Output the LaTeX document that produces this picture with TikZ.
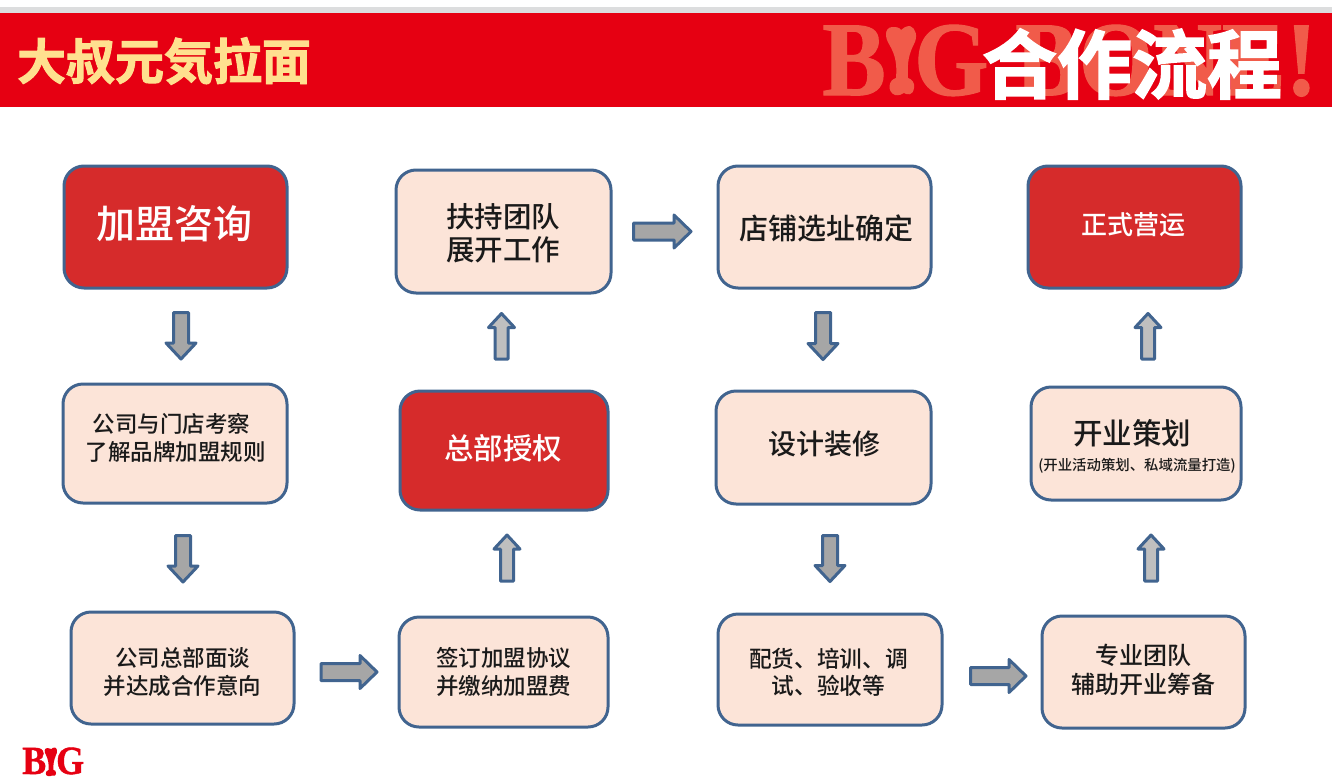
\documentclass[tikz,border=0pt]{standalone}
\usepackage{fontspec}
\setmainfont{Noto Sans CJK SC Medium}
\newfontfamily\headfont[FakeBold=2]{Noto Sans CJK SC Bold}
\newfontfamily\bigfont[FakeBold=1,FakeStretch=0.9]{Liberation Serif Bold}
\usetikzlibrary{calc}
\definecolor{bandred}{HTML}{E60012}
\definecolor{bandgray}{HTML}{DCDDDE}
\definecolor{ghost}{HTML}{F15B4A}
\definecolor{gold}{HTML}{FFE08F}
\definecolor{edgeblue}{HTML}{41648F}
\definecolor{peach}{HTML}{FCE4D8}
\definecolor{boxred}{HTML}{D62B2B}
\definecolor{arrowgray}{HTML}{A6A6A6}
\definecolor{arrowpale}{HTML}{BFBFBF}
\definecolor{ink}{HTML}{1A1A1A}
\tikzset{
  stepbox/.style={draw=edgeblue,line width=3pt,rounded corners=20pt,fill=peach,inner sep=0pt},
  redbox/.style={stepbox,fill=boxred},
  inktext/.style={text=ink,align=center,inner sep=0pt},
  paletext/.style={text=white,align=center,inner sep=0pt},
  downarrow/.style={draw=edgeblue,fill=arrowgray,line width=3pt,line join=round},
  uparrow/.style={draw=edgeblue,fill=arrowpale,line width=3pt,line join=round},
}
% name, x0, y0, x1, y1, box style
\newcommand{\stepnode}[6]{%
  \node[#6,minimum width={#4-#2-2},minimum height={#5-#3-2}] (#1) at ({(#2+#4)/2},{(#3+#5)/2}) {};}
% style, start, end, shaft half-width, head half-width, head length
\newcommand{\blockconn}[6]{%
  \coordinate (ba) at (#2); \coordinate (bb) at (#3);
  \coordinate (bs) at ($(ba)!-1pt!(bb)$); \coordinate (be) at ($(bb)!-2pt!(ba)$);
  \coordinate (bh) at ($(be)!#6pt!(bs)$);
  \draw[#1] ($(bs)!#4pt!90:(be)$) -- ($(bh)!#4pt!-90:(bs)$) -- ($(bh)!#5pt!-90:(bs)$) -- (be)
    -- ($(bh)!#5pt!90:(bs)$) -- ($(bh)!#4pt!90:(bs)$) -- ($(bs)!#4pt!-90:(be)$) -- cycle;}
\newcommand{\fs}[1]{\fontsize{#1pt}{#1pt}\selectfont}
\begin{document}
\begin{tikzpicture}[x=1pt,y=-1pt]
\useasboundingbox (0,0) rectangle (1332,779);
\fill[white] (0,0) rectangle (1332,779);
\fill[bandgray] (0,7) rectangle (1332,13);
\fill[bandred] (0,13) rectangle (1332,107);
% ghost wordmark
\node[text=ghost,inner sep=0pt,anchor=base west] (gb) at (822,95) {\bigfont\fs{106}B};
\fill[ghost] (892,27) .. controls (884,28) and (885,38) .. (889,44) .. controls (896,56) and (897,65) .. (896,78)
  .. controls (888,80) and (887,92) .. (895,95) .. controls (899,96) and (902,94) .. (904,93)
  .. controls (907,95) and (913,96) .. (914,88) .. controls (915,83) and (912,79) .. (908,78)
  .. controls (907,62) and (909,54) .. (914,44) .. controls (918,37) and (916,28) .. (910,26)
  .. controls (906,26) and (903,28) .. (901,30) .. controls (899,27) and (896,27) .. (892,27) -- cycle;
\node[text=ghost,inner sep=0pt,anchor=base west] (gg) at (914,95) {\bigfont\fs{106}G};
\node[text=ghost,inner sep=0pt,anchor=base west] (gbone) at (1015,95) {\bigfont\fs{106}BONE!};
% titles
\node[text=gold,inner sep=0pt] (title) at (164,61) {\headfont\fs{49}大叔元気拉面};
\node[text=white,inner sep=0pt] (flow) at (1132,64) {\headfont\fs{75}合作流程};
% boxes
\stepnode{n1}{63}{165}{288}{289}{redbox}
\stepnode{n2}{62}{383}{288}{504}{stepbox}
\stepnode{n3}{70}{611}{295}{725}{stepbox}
\stepnode{n4}{398}{616}{609}{728}{stepbox}
\stepnode{n5}{399}{390}{609}{511}{redbox}
\stepnode{n6}{395}{169}{612}{294}{stepbox}
\stepnode{n7}{717}{165}{932}{289}{stepbox}
\stepnode{n8}{715}{390}{932}{505}{stepbox}
\stepnode{n9}{717}{613}{943}{726}{stepbox}
\stepnode{n10}{1041}{615}{1246}{729}{stepbox}
\stepnode{n11}{1030}{386}{1242}{501}{stepbox}
\stepnode{n12}{1027}{165}{1242}{289}{redbox}
% texts
\node[paletext,font=\fs{39}] (t1) at ($(n1.center)+(-1,-3)$) {加盟咨询};
\node[inktext,font=\fs{22.5}] (t2a) at (171.5,424) {公司与门店考察};
\node[inktext,font=\fs{22.5}] (t2b) at (175.5,452) {了解品牌加盟规则};
\node[inktext,font=\fs{22.5}] (t3a) at (182.5,658) {公司总部面谈};
\node[inktext,font=\fs{22.5}] (t3b) at (182.5,686) {并达成合作意向};
\node[inktext,font=\fs{22.5}] (t4a) at (503.5,658) {签订加盟协议};
\node[inktext,font=\fs{22.5}] (t4b) at (503.5,686) {并缴纳加盟费};
\node[paletext,font=\fs{29.5}] (t5) at ($(n5.center)+(-1,-2)$) {总部授权};
\node[inktext,font=\fs{28.5}] (t6a) at (503,217) {扶持团队};
\node[inktext,font=\fs{28.5}] (t6b) at (503,250) {展开工作};
\node[inktext,font=\fs{29}] (t7) at ($(n7.center)+(2,1)$) {店铺选址确定};
\node[inktext,font=\fs{28}] (t8) at ($(n8.center)+(0.5,-3.5)$) {设计装修};
\node[inktext,font=\fs{22.7}] (t9a) at (828.5,659) {配货、培训、调};
\node[inktext,font=\fs{22.7}] (t9b) at (828.5,686) {试、验收等};
\node[inktext,font=\fs{24}] (t10a) at (1143,655) {专业团队};
\node[inktext,font=\fs{24}] (t10b) at (1143,684) {辅助开业筹备};
\node[inktext,font=\fs{29.5}] (t11a) at (1132,433) {开业策划};
\node[inktext,font=\fs{14.4}] (t11b) at (1137,466) {(开业活动策划、私域流量打造)};
\node[paletext,font=\fs{26}] (t12) at ($(n12.center)+(-1,-2)$) {正式营运};
% connectors
\blockconn{downarrow}{$(n1.south)+(5.5,24)$}{$(n2.north)+(6,-25.5)$}{7.5}{15}{16}
\blockconn{downarrow}{$(n2.south)+(8,32)$}{$(n3.north)+(0.5,-30.5)$}{7.5}{15}{16}
\blockconn{downarrow}{$(n3.east)+(26.5,4)$}{$(n4.west)+(-22.5,0)$}{8.5}{16.5}{17}
\blockconn{uparrow}{$(n4.north)+(3.5,-35.5)$}{$(n5.south)+(3,25.5)$}{6.5}{13}{14}
\blockconn{uparrow}{$(n5.north)+(-2.5,-31.5)$}{$(n6.south)+(-2,21)$}{6.5}{13}{14}
\blockconn{downarrow}{$(n6.east)+(22,0)$}{$(n7.west)+(-27.5,4.5)$}{8.5}{16.5}{17}
\blockconn{downarrow}{$(n7.south)+(-1.5,24)$}{$(n8.north)+(-0.5,-32)$}{7.5}{15}{16}
\blockconn{downarrow}{$(n8.south)+(6.5,31)$}{$(n9.north)+(0,-33)$}{7.5}{15}{16}
\blockconn{downarrow}{$(n9.east)+(28,6.5)$}{$(n10.west)+(-16.5,4)$}{8.5}{16.5}{17}
\blockconn{uparrow}{$(n10.north)+(7.5,-34.5)$}{$(n11.south)+(15,35.5)$}{6.5}{13}{14}
\blockconn{uparrow}{$(n11.north)+(12,-27.5)$}{$(n12.south)+(13.5,26)$}{6.5}{13}{14}
% bottom-left mark
\node[text=bandred,inner sep=0pt,anchor=base west] (mb) at (22,774) {\bigfont\fs{40}B};
\fill[bandred] (47.5,748) .. controls (44,748) and (44,752) .. (46,755) .. controls (48.5,760) and (49,765) .. (48.5,770)
  .. controls (45,771) and (45,776) .. (48,776) .. controls (50,776.5) and (51,776) .. (52,775.5)
  .. controls (53,776) and (56,776.5) .. (56,773) .. controls (56,771) and (55,770) .. (53.5,770)
  .. controls (53,764) and (54,760) .. (56,755) .. controls (58,752) and (57,748) .. (55,747.5)
  .. controls (53,747.5) and (52,748) .. (51.5,749) .. controls (50,748) and (49,748) .. (47.5,748) -- cycle;
\node[text=bandred,inner sep=0pt,anchor=base west] (mg) at (56,774) {\bigfont\fs{40}G};
\end{tikzpicture}
\end{document}
